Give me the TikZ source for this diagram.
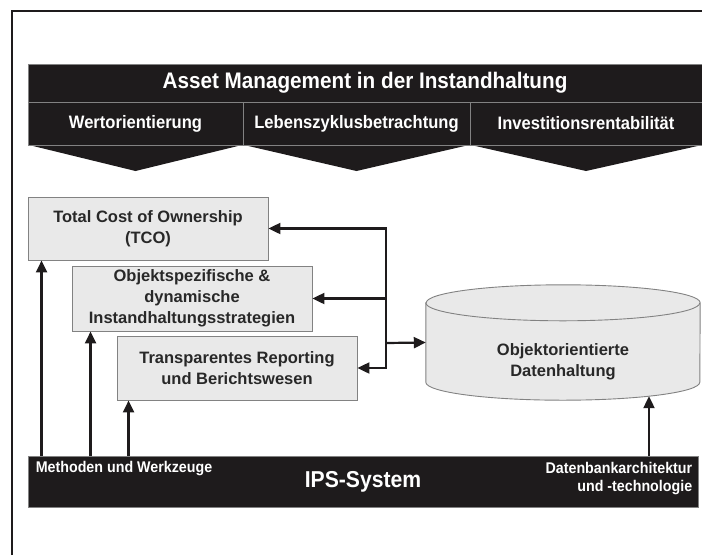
\documentclass[tikz,border=0pt]{standalone}
\usepackage{fontspec}
\setmainfont{Liberation Sans}
\newfontfamily\narrowfont[FakeStretch=0.92]{Liberation Sans}
\usetikzlibrary{arrows.meta,calc}
\definecolor{ipsblack}{RGB}{30,27,28}
\definecolor{ipsgrey}{RGB}{233,233,233}
\definecolor{ipsline}{RGB}{130,130,130}
\definecolor{ipstext}{RGB}{40,40,40}

\begin{document}
\begin{tikzpicture}[x=1pt,y=-1pt,
  bar/.style={fill=ipsblack,draw=ipsline,line width=0.8,text=white,inner sep=0},
  box/.style={fill=ipsgrey,draw=ipsline,line width=0.9,text=ipstext,align=center,
    font=\bfseries\fontsize{16.5}{21}\selectfont,inner sep=0},
  arr/.style={line width=2.2,draw=ipsblack,-{Triangle[length=12pt,width=11pt]}},
]
\useasboundingbox (0,0) rectangle (702,555);

% Outer frame
\draw[line width=2,ipsblack] (12,555) -- (12,11) -- (702,11);

% Title banner
\node[bar,minimum width=674,minimum height=38,
  font=\narrowfont\bfseries\fontsize{22.5}{24}\selectfont] (title) at (365,83)
  {Asset Management in der Instandhaltung};

% Chevrons
\fill[ipsblack] (29,145) -- (135.5,171) -- (242,145) -- cycle;
\fill[ipsblack] (244,145) -- (356.5,171) -- (469,145) -- cycle;
\fill[ipsblack] (471,145) -- (586,171) -- (702,145) -- cycle;

% Three aspects
\node[bar,minimum width=215,minimum height=43,
  font=\narrowfont\bfseries\fontsize{18}{20}\selectfont] (wert) at (135.5,123.5)
  {Wertorientierung};
\node[bar,minimum width=227,minimum height=43,
  font=\narrowfont\bfseries\fontsize{18}{20}\selectfont] (leben) at (356.5,123.5)
  {Lebenszyklusbetrachtung};
\node[bar,minimum width=232,minimum height=43,
  font=\narrowfont\bfseries\fontsize{18}{20}\selectfont] (invest) at (586,123.5)
  {Investitionsrentabilit\"at};

% Boxes
\node[box,minimum width=240,minimum height=63] (tco) at (148,228.5)
  {Total Cost of Ownership\\(TCO)};
\node[box,minimum width=240,minimum height=65] (obj) at (192,298.5)
  {Objektspezifische \&\\dynamische\\Instandhaltungsstrategien};
\node[box,minimum width=240,minimum height=64] (transp) at (237,368)
  {Transparentes Reporting\\und Berichtswesen};

% Database cylinder
\node[minimum width=274,minimum height=79,inner sep=0] (db) at (563,342.5) {};
\draw[fill=ipsgrey,draw=ipsline,line width=0.9] (db.north west) -- (db.south west)
  arc[start angle=180,end angle=0,x radius=137,y radius=18] -- (db.north east)
  arc[start angle=0,end angle=-180,x radius=137,y radius=18] -- cycle;
\draw[draw=ipsline,line width=0.9] (db.north west)
  arc[start angle=180,end angle=0,x radius=137,y radius=18];
\node[box,fill=none,draw=none] at ([yshift=-19.5]db.center)
  {Objektorientierte\\Datenhaltung};

% IPS bar
\node[bar,minimum width=670,minimum height=51,
  font=\narrowfont\bfseries\fontsize{23}{24}\selectfont] (ips) at (363,481.5)
  {IPS-System};
\node[text=white,anchor=north west,inner sep=0,
  font=\narrowfont\bfseries\fontsize{15.5}{18}\selectfont] (meth)
  at ([xshift=8,yshift=-5]ips.north west) {Methoden und Werkzeuge};
\node[text=white,anchor=north east,inner sep=0,align=right,
  font=\narrowfont\bfseries\fontsize{15.5}{18}\selectfont] (dbtech)
  at ([xshift=-6,yshift=-6]ips.north east) {Datenbankarchitektur\\und -technologie};

% Connections
\coordinate (hub) at (386,343);
\draw[arr] (hub) -- (db.west);
\draw[arr] (hub) |- (tco.east);
\draw[arr] (hub) |- (obj.east);
\draw[arr] (hub) |- (transp.east);

\draw[arr] ([xshift=14]tco.south west |- ips.north) -- ([xshift=14]tco.south west);
\draw[arr] ([xshift=19]obj.south west |- ips.north) -- ([xshift=19]obj.south west);
\draw[arr] ([xshift=12]transp.south west |- ips.north) -- ([xshift=12]transp.south west);
\draw[arr] ([xshift=86]db.south |- ips.north) -- ([xshift=86,yshift=-14]db.south);
\end{tikzpicture}
\end{document}
